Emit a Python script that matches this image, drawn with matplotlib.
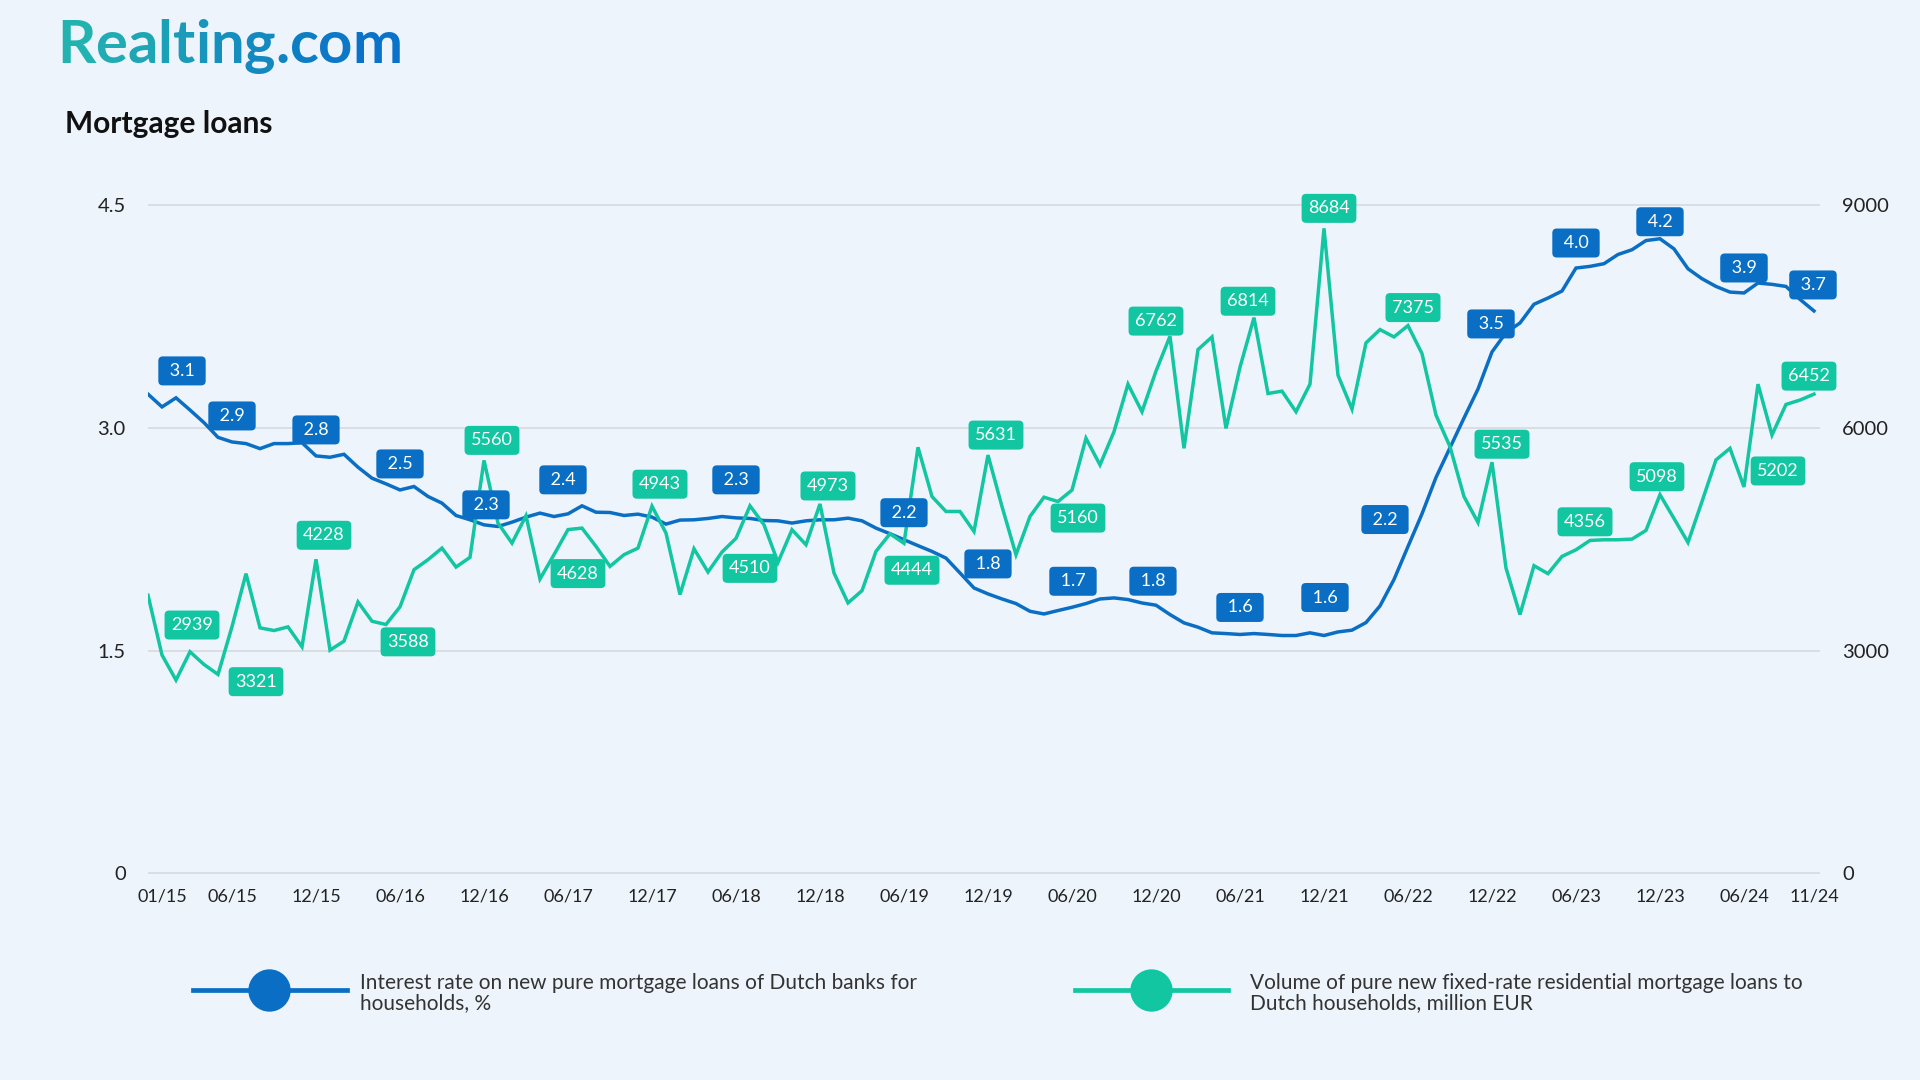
import numpy as np
import pandas as pd
import matplotlib
matplotlib.use("Agg")
import matplotlib.pyplot as plt
from matplotlib.lines import Line2D
from matplotlib.colors import to_rgb

plt.rcParams['font.family'] = ['Lato', 'DejaVu Sans']

# monthly series, 12/14 .. 11/24
months = pd.date_range("2014-12-01", periods=120, freq="MS")

# interest rate, %
rate = [3.226, 3.140, 3.201, 3.119, 3.034, 2.935, 2.904, 2.893, 2.859, 2.893, 2.893, 2.899,
        2.810, 2.801, 2.821, 2.734, 2.660, 2.622, 2.581, 2.604, 2.537, 2.492, 2.409, 2.380,
        2.346, 2.335, 2.364, 2.398, 2.425, 2.402, 2.420, 2.474, 2.431, 2.429, 2.409, 2.418,
        2.398, 2.351, 2.378, 2.380, 2.389, 2.402, 2.393, 2.389, 2.375, 2.373, 2.358, 2.373,
        2.380, 2.380, 2.391, 2.373, 2.324, 2.286, 2.246, 2.206, 2.167, 2.122, 2.022, 1.921,
        1.881, 1.847, 1.816, 1.764, 1.746, 1.769, 1.791, 1.816, 1.847, 1.854, 1.843, 1.820,
        1.805, 1.742, 1.686, 1.657, 1.619, 1.614, 1.608, 1.614, 1.608, 1.601, 1.601, 1.619,
        1.601, 1.625, 1.637, 1.688, 1.800, 1.978, 2.200, 2.420, 2.665, 2.865, 3.065, 3.260,
        3.510, 3.640, 3.705, 3.831, 3.873, 3.920, 4.075, 4.086, 4.104, 4.166, 4.198, 4.260,
        4.272, 4.204, 4.070, 4.003, 3.951, 3.913, 3.907, 3.974, 3.965, 3.951, 3.864, 3.786]

# volume, million EUR
volume = [3744, 2939, 2602, 2983, 2812, 2678, 3321, 4035, 3305, 3269, 3318, 3050,
          4228, 3005, 3126, 3654, 3394, 3350, 3588, 4088, 4223, 4379, 4124, 4254,
          5560, 4715, 4446, 4814, 3963, 4290, 4628, 4648, 4402, 4133, 4290, 4379,
          4943, 4581, 3753, 4370, 4057, 4326, 4510, 4948, 4693, 4187, 4626, 4424,
          4973, 4044, 3641, 3806, 4335, 4572, 4444, 5736, 5073, 4872, 4872, 4603,
          5631, 4939, 4290, 4805, 5064, 5006, 5160, 5857, 5499, 5946, 6586, 6215,
          6762, 7231, 5722, 7052, 7222, 5991, 6814, 7482, 6461, 6492, 6215, 6586,
          8684, 6707, 6251, 7142, 7321, 7222, 7375, 6998, 6170, 5745, 5073, 4724,
          5535, 4111, 3484, 4142, 4035, 4267, 4356, 4482, 4491, 4491, 4500, 4617,
          5098, 4778, 4455, 5006, 5566, 5722, 5202, 6586, 5902, 6313, 6372, 6452]

tick_pos = [1, 6, 12, 18, 24, 30, 36, 42, 48, 54, 60, 66, 72, 78, 84, 90, 96, 102, 108, 114, 119]
tick_labels = ["01/15", "06/15", "12/15", "06/16", "12/16", "06/17", "12/17", "06/18",
               "12/18", "06/19", "12/19", "06/20", "12/20", "06/21", "12/21", "06/22",
               "12/22", "06/23", "12/23", "06/24", "11/24"]

rate_lbl_pos = [1, 6, 12, 18, 24, 30, 42, 54, 60, 66, 72, 78, 84, 90, 96, 102, 108, 114, 119]
rate_lbl_txt = ["3.1", "2.9", "2.8", "2.5", "2.3", "2.4", "2.3", "2.2", "1.8", "1.7",
                "1.8", "1.6", "1.6", "2.2", "3.5", "4.0", "4.2", "3.9", "3.7"]
vol_lbl_pos = tick_pos
vol_lbl_txt = ["2939", "3321", "4228", "3588", "5560", "4628", "4943", "4510", "4973", "4444",
               "5631", "5160", "6762", "6814", "8684", "7375", "5535", "4356", "5098", "5202", "6452"]

# label offsets in pixels (dx, up)
rate_dx = [20, 0, 0, 0, 2, -5, 0, 0, 0, 1, -3, 0, 1, -23, -1, 0, 0, 0, -1]
rate_dy = [36, 26, 26, 26, 20, 34, 38, 27, 30, 26, 24, 27, 38, 27, 28, 25, 17, 25, 26]
vol_dx = [30, 24, 8, 8, 8, 10, 8, 14, 8, 8, 8, 6, 0, 8, 5, 5, 10, 9, -3, 34, -5]
vol_dy = [30, -55, 24, -35, 20, -44, 22, -30, 18, -27, 20, -28, 50, 66, 20, 18, 18, 28, 18, 16, 18]

BLUE = "#0A6FC4"
GREEN = "#12C6A2"
BG = "#EEF4FB"
GRID = "#D8DBDF"
W, H = 1920, 1080

def fx(x):
    return x / W

def fy(y):
    return 1 - y / H

fig = plt.figure(figsize=(19.2, 10.8), dpi=100, facecolor=BG)

x = np.arange(len(months))

ax = fig.add_axes([fx(148), fy(874.8), (1820 - 148) / W, (874.8 - 203.4) / H])
ax.set_facecolor("none")
ax2 = ax.twinx()

ax.set_xlim(0, 119.43)
ax.set_ylim(-0.01, 4.51)
ax2.set_ylim(-20, 9020)

ax.set_yticks([0, 1.5, 3.0, 4.5])
ax.set_yticklabels(["0", "1.5", "3.0", "4.5"])
ax2.set_yticks([0, 3000, 6000, 9000])
ax2.set_yticklabels(["0", "3000", "6000", "9000"])
ax.set_xticks(tick_pos)
ax.set_xticklabels(tick_labels)

ax.yaxis.grid(True, color=GRID, lw=1.3)
ax.set_axisbelow(True)
for a in (ax, ax2):
    for s in a.spines.values():
        s.set_visible(False)
ax.tick_params(axis="y", length=0, pad=16, labelsize=14.5, labelcolor="#222222")
ax2.tick_params(axis="y", length=0, pad=16, labelsize=14.5, labelcolor="#222222")
ax.tick_params(axis="x", length=0, pad=10, labelsize=13, labelcolor="#222222")

ax.plot(x, rate, color=BLUE, lw=2.5, zorder=3, solid_joinstyle="miter")
ax2.plot(x, volume, color=GREEN, lw=2.5, zorder=3, solid_joinstyle="miter")

# data labels, drawn on top axes so they cover both lines
for i, t, dx, dy in zip(rate_lbl_pos, rate_lbl_txt, rate_dx, rate_dy):
    ax2.annotate(" " + t + " ", xy=(i, rate[i]), xycoords=ax.transData, xytext=(dx, dy),
                 textcoords="offset pixels", ha="center", va="center", color="white",
                 fontsize=13, annotation_clip=False, zorder=10,
                 bbox=dict(boxstyle="round,pad=0.36,rounding_size=0.25", fc=BLUE, ec="none"))
for i, t, dx, dy in zip(vol_lbl_pos, vol_lbl_txt, vol_dx, vol_dy):
    ax2.annotate(t, xy=(i, volume[i]), xytext=(dx, dy),
                 textcoords="offset pixels", ha="center", va="center", color="white",
                 fontsize=13, annotation_clip=False, zorder=10,
                 bbox=dict(boxstyle="round,pad=0.36,rounding_size=0.25", fc=GREEN, ec="none"))

# title
fig.text(fx(65), fy(133), "Mortgage loans", fontsize=21.5, fontweight="bold",
         color="#111111", ha="left", va="baseline")

# logo with colour gradient, one character at a time
logo = "Realting.com"
c0 = np.array(to_rgb("#22B2B0"))
c1 = np.array(to_rgb("#0A72C9"))
renderer = fig.canvas.get_renderer()
probe = fig.text(0, 0, "", fontsize=43, fontweight="bold")
for k, ch in enumerate(logo):
    if k == 0:
        off = 0
    else:
        probe.set_text(logo[:k])
        off = probe.get_window_extent(renderer).width
    col = c0 + (c1 - c0) * k / (len(logo) - 1)
    fig.text(fx(57 + off), fy(63), ch, fontsize=43, fontweight="bold",
             color=col, ha="left", va="baseline")
probe.remove()

# legend
leg_items = [
    (193, 347, 269, 360, BLUE,
     "Interest rate on new pure mortgage loans of Dutch banks for\nhouseholds, %"),
    (1075, 1228, 1151, 1250, GREEN,
     "Volume of pure new fixed-rate residential mortgage loans to\nDutch households, million EUR"),
]
for x0, x1, xm, xt, col, txt in leg_items:
    fig.add_artist(Line2D([fx(x0), fx(x1)], [fy(990), fy(990)], transform=fig.transFigure,
                          color=col, lw=3.4))
    fig.add_artist(Line2D([fx(xm)], [fy(990)], transform=fig.transFigure,
                          marker="o", ms=29.5, color=col, lw=0))
    fig.text(fx(xt), fy(993), txt, fontsize=15, color="#333333", ha="left", va="center",
             linespacing=1.05)

fig.savefig("out.png", dpi=100, facecolor=BG)
